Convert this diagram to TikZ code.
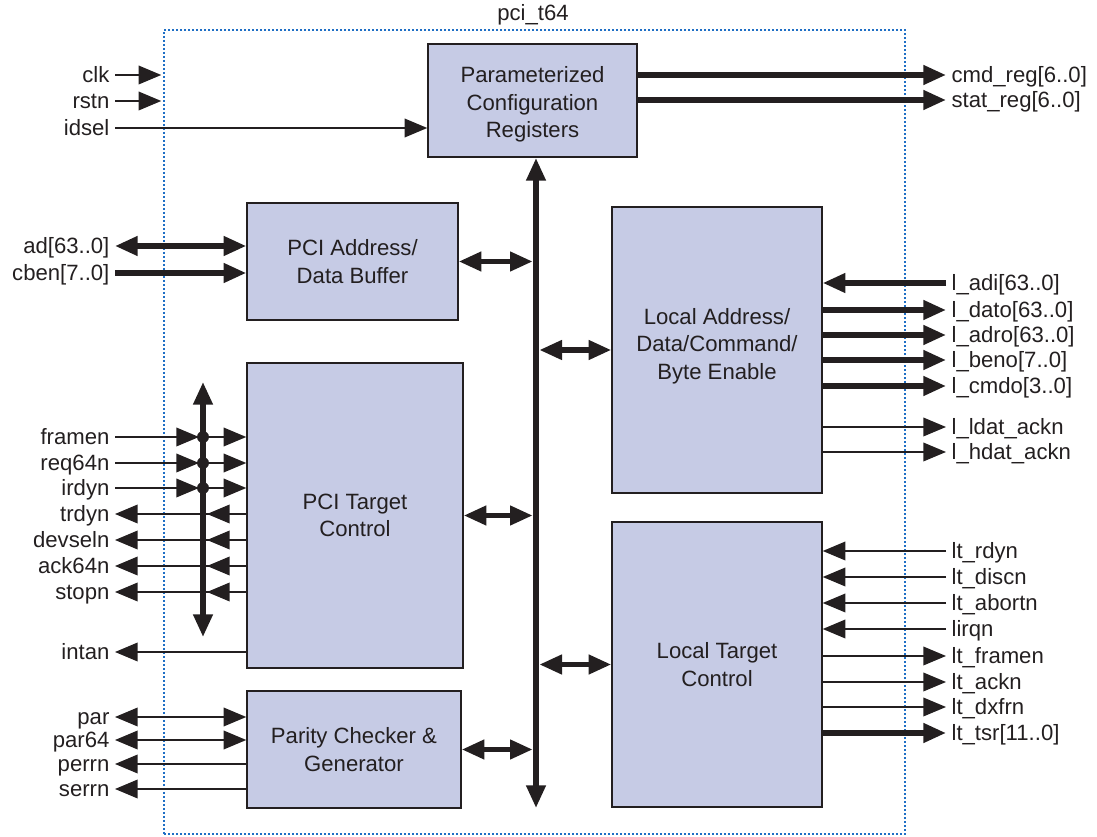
\documentclass[tikz,border=0pt]{standalone}
\usepackage{fontspec}
\setmainfont{Liberation Sans}
\usetikzlibrary{arrows.meta,calc}
\definecolor{boxfill}{HTML}{C6CBE5}
\definecolor{ink}{HTML}{231F20}
\definecolor{frameblue}{HTML}{1F6FC5}
\begin{document}
\begin{tikzpicture}[x=0.75pt,y=-0.75pt,
  every node/.style={font=\fontsize{16.6}{20.6}\selectfont, text=ink},
  blk/.style={draw=ink, fill=boxfill, line width=1.1pt, inner sep=0pt, align=center},
  sz/.style 2 args={minimum width=#1*0.75pt, minimum height=#2*0.75pt},
  lbl/.style={inner ysep=0pt, inner xsep=4pt, text height=11.9pt, text depth=0pt},
  lefl/.style={lbl, anchor=east},
  rigl/.style={lbl, anchor=west},
  sig/.style={draw=ink, line width=1.1pt},
  wide/.style={draw=ink, line width=4pt},
  >={Triangle[length=17pt,width=14pt]},
]
\useasboundingbox (0,0) rectangle (1097,837);

% enclosing frame
\node[draw=frameblue, line width=1.1pt, dash pattern=on 1.3pt off 1.7pt, inner sep=0pt, sz={741}{804}] (frame) at (534.5,432) {};
\node (title) at (533,15) {pci\_t64};

% blocks
\node[blk, sz={209}{113}] (cfg) at (532.5,100.5) {\rule{0pt}{18pt}Parameterized\\Configuration\\Registers};
\node[blk, sz={211}{117}] (pad) at (352.5,261.5) {PCI Address/\\Data Buffer};
\node[blk, sz={210}{286}] (lad) at (717,350) {Local Address/\\Data/Command/\\Byte Enable\rule[-9.5pt]{0pt}{9.5pt}};
\node[blk, sz={216}{305}] (tpc) at (355,515.5) {PCI Target\\Control};
\node[blk, sz={214}{117}] (pcg) at (354,749.5) {Parity Checker \&\\Generator};
\node[blk, sz={210}{285}] (ltc) at (717,664.5) {Local Target\\Control};

% internal bus
\coordinate (busT) at (536,158);
\coordinate (busB) at (536,808);
\draw[wide,<->] (busT) -- (busB);
\draw[wide,<->,shorten >=2.5pt] (pad.east) -- (pad.east -| busT);
\draw[wide,<->,shorten >=2.5pt] (tpc.east) -- (tpc.east -| busT);
\draw[wide,<->,shorten >=2.5pt] (pcg.east) -- (pcg.east -| busT);
\draw[wide,<->,shorten <=2.5pt] (lad.west -| busT) -- (lad.west);
\draw[wide,<->,shorten <=2.5pt] (ltc.west -| busT) -- (ltc.west);

% left labels
\node[lefl] (clk) at (115,75) {clk};
\node[lefl] (rstn) at (115,101) {rstn};
\node[lefl] (idsel) at (115,128) {idsel};
\node[lefl] (ad) at (115,246) {ad[63..0]};
\node[lefl] (cben) at (115,273) {cben[7..0]};
\node[lefl] (framen) at (115,437) {framen};
\node[lefl] (req) at (115,463) {req64n};
\node[lefl] (irdyn) at (115,488) {irdyn};
\node[lefl] (trdyn) at (115,514) {trdyn};
\node[lefl] (devseln) at (115,540) {devseln};
\node[lefl] (ack) at (115,566) {ack64n};
\node[lefl] (stopn) at (115,592) {stopn};
\node[lefl] (intan) at (115,652) {intan};
\node[lefl] (Lpar) at (115,717) {par};
\node[lefl] (Lpar64) at (115,740) {par64};
\node[lefl] (perrn) at (115,764) {perrn};
\node[lefl] (serrn) at (115,789) {serrn};

% right labels
\node[rigl] (cmd) at (946,75) {cmd\_reg[6..0]};
\node[rigl] (stat) at (946,100) {stat\_reg[6..0]};
\node[rigl] (ladi) at (946,283) {l\_adi[63..0]};
\node[rigl] (ldato) at (946,310) {l\_dato[63..0]};
\node[rigl] (ladro) at (946,335) {l\_adro[63..0]};
\node[rigl] (lbeno) at (946,360) {l\_beno[7..0]};
\node[rigl] (lcmdo) at (946,386) {l\_cmdo[3..0]};
\node[rigl] (lldat) at (946,427) {l\_ldat\_ackn};
\node[rigl] (lhdat) at (946,452) {l\_hdat\_ackn};
\node[rigl] (ltrdyn) at (946,551) {lt\_rdyn};
\node[rigl] (ltdiscn) at (946,577) {lt\_discn};
\node[rigl] (ltabortn) at (946,603) {lt\_abortn};
\node[rigl] (lirqn) at (946,629) {lirqn};
\node[rigl] (ltframen) at (946,656) {lt\_framen};
\node[rigl] (ltackn) at (946,682) {lt\_ackn};
\node[rigl] (ltdxfrn) at (946,707) {lt\_dxfrn};
\node[rigl] (lttsr) at (946,733) {lt\_tsr[11..0]};

% top-left inputs
\draw[sig,->,shorten >=1.5pt] (clk.east) -- (clk.east -| frame.west);
\draw[sig,->,shorten >=1.5pt] (rstn.east) -- (rstn.east -| frame.west);
\draw[sig,->] (idsel.east) -- (idsel.east -| cfg.west);

% config outputs
\draw[wide,->] (cmd.west -| cfg.east) -- (cmd.west);
\draw[wide,->] (stat.west -| cfg.east) -- (stat.west);

% PCI address/data
\draw[wide,<->] (ad.east) -- (ad.east -| pad.west);
\draw[wide,->] (cben.east) -- (cben.east -| pad.west);

% small control bus
\coordinate (sbT) at (203,382);
\coordinate (sbB) at (203,637);
\draw[wide,<->] (sbT) -- (sbB);
\foreach \s in {framen,req,irdyn}{
  \draw[sig,->,shorten >=3pt] (\s.east) -- (\s.east -| sbT);
  \draw[sig,->] (\s.east -| sbT) -- (\s.east -| tpc.west);
  \fill[ink] (\s.east -| sbT) circle[radius=4.5pt];
}
\foreach \s in {trdyn,devseln,ack,stopn}{
  \draw[sig,->] (\s.east -| tpc.west) -- (\s.east);
  \draw[sig,->] (\s.east -| tpc.west) -- ($(\s.east -| sbT)+(4,0)$);
}
\draw[sig,->] (intan.east -| tpc.west) -- (intan.east);

% parity
\draw[sig,<->] (Lpar.east) -- (Lpar.east -| pcg.west);
\draw[sig,<->] (Lpar64.east) -- (Lpar64.east -| pcg.west);
\draw[sig,->] (perrn.east -| pcg.west) -- (perrn.east);
\draw[sig,->] (serrn.east -| pcg.west) -- (serrn.east);

% local address side
\draw[wide,->] (ladi.west) -- (ladi.west -| lad.east);
\foreach \s in {ldato,ladro,lbeno,lcmdo}{
  \draw[wide,->] (\s.west -| lad.east) -- (\s.west);
}
\foreach \s in {lldat,lhdat}{
  \draw[sig,->] (\s.west -| lad.east) -- (\s.west);
}

% local target side
\foreach \s in {ltrdyn,ltdiscn,ltabortn,lirqn}{
  \draw[sig,->] (\s.west) -- (\s.west -| ltc.east);
}
\foreach \s in {ltframen,ltackn,ltdxfrn}{
  \draw[sig,->] (\s.west -| ltc.east) -- (\s.west);
}
\draw[wide,->] (lttsr.west -| ltc.east) -- (lttsr.west);
\end{tikzpicture}
\end{document}
